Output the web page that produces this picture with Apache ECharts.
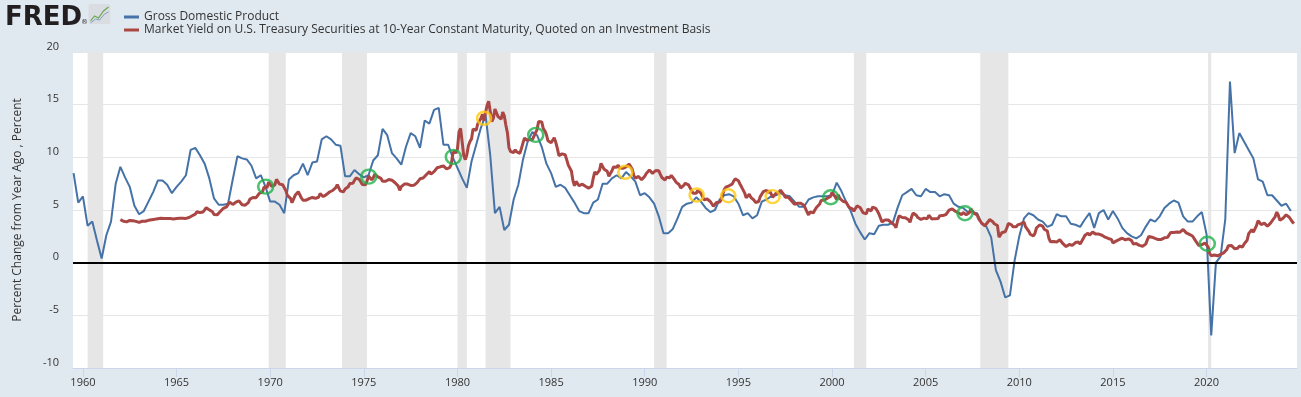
<!DOCTYPE html>
<html>
<head>
<meta charset="utf-8">
<title>GDP vs 10-Year Treasury</title>
<script src="https://cdn.jsdelivr.net/npm/echarts@6/dist/echarts.min.js"></script>
<style>
  html, body { margin: 0; padding: 0; background: #e1e9f0; }
  #chart { width: 1301px; height: 397px; }
</style>
</head>
<body>
<div id="chart"></div>
<script>
// GDP, percent change from year ago, quarterly from 1959 Q3
const gdpStart = 1959.5;
const gdpPct = [
  8.5, 5.7,
  6.3, 3.5, 3.9, 2.1,   0.4, 2.6, 3.9, 7.5,   9.1, 8.1, 7.2, 5.4,   4.6, 4.9, 5.8, 6.7,
  7.8, 7.8, 7.4, 6.6,   7.2, 7.7, 8.3, 10.7,  10.9, 10.2, 9.4, 8.0,  6.1, 5.5, 5.5, 5.6,
  7.9, 10.1, 9.9, 9.8,  9.2, 8.0, 8.3, 7.2,
  5.8, 5.8, 5.5, 4.7,   7.9, 8.3, 8.5, 9.4,   8.3, 9.5, 9.6, 11.7,  12.0, 11.7, 11.2, 11.1,
  8.2, 8.2, 8.8, 8.4,   8.1, 8.3, 9.7, 10.2,  12.7, 12.1, 10.4, 9.9, 9.3, 11.0, 12.3, 12.0,
  10.9, 13.5, 13.2, 14.5, 14.7, 11.2, 11.2, 10.0,
  9.0, 8.0, 7.1, 9.6,   11.2, 12.8, 14.0, 10.2, 4.7, 5.3, 3.1, 3.6,   6.0, 7.4, 9.8, 11.5,
  12.4, 12.1, 11.0, 9.4, 8.5, 7.2, 7.4, 7.1,  6.4, 5.7, 4.9, 4.7,   4.7, 5.7, 6.0, 7.5,
  7.5, 8.0, 8.3, 8.0,   8.6, 8.2, 7.7, 6.4,
  6.6, 6.2, 5.6, 4.4,   2.8, 2.8, 3.2, 4.2,   5.3, 5.6, 5.7, 6.2,   5.8, 5.2, 4.8, 5.0,
  6.0, 6.4, 6.5, 6.3,   5.6, 4.5, 4.7, 4.2,   4.5, 5.8, 6.0, 6.3,   6.4, 6.6, 6.4, 6.3,
  5.8, 5.3, 5.3, 6.0,   6.2, 6.3, 6.3, 6.3,
  6.4, 7.6, 6.8, 5.8,   4.9, 3.7, 2.9, 2.2,   2.8, 2.7, 3.5, 3.6,   3.6, 3.8, 5.2, 6.4,
  6.7, 7.0, 6.4, 6.3,   7.0, 6.7, 6.7, 6.3,   6.5, 6.4, 5.6, 5.3,   5.2, 4.8, 4.8, 4.7,
  3.7, 3.4, 2.4, -0.7,  -1.8, -3.3, -3.1, 0.2,
  2.5, 4.2, 4.7, 4.5,   4.1, 3.9, 3.4, 3.6,   4.6, 4.4, 4.4, 3.7,   3.6, 3.4, 4.1, 4.7,
  3.3, 4.7, 5.0, 4.1,   4.9, 4.2, 3.3, 2.8,   2.5, 2.3, 2.6, 3.4,   4.1, 3.9, 4.4, 5.2,
  5.6, 5.9, 5.7, 4.4,   3.9, 3.9, 4.4, 4.8,
  2.7, -6.9, 0.0, 0.6,  4.1, 17.2, 10.4, 12.3, 11.5, 10.7, 9.9, 7.9, 7.7, 6.4, 6.4, 5.9,
  5.4, 5.6, 4.9
];

// 10-year treasury yield, percent, monthly from Jan 1962
const tsyStart = 1962;
const tsyYield = [
  4.08, 4.04, 3.93, 3.84, 3.87, 3.91, 4.01, 3.98, 3.98, 3.93, 3.92, 3.86,
  3.83, 3.92, 3.93, 3.97, 3.93, 3.99, 4.02, 4.00, 4.08, 4.11, 4.12, 4.13,
  4.17, 4.15, 4.22, 4.23, 4.20, 4.17, 4.19, 4.19, 4.20, 4.19, 4.15, 4.18,
  4.19, 4.21, 4.21, 4.20, 4.21, 4.21, 4.20, 4.25, 4.29, 4.35, 4.45, 4.62,
  4.61, 4.83, 4.87, 4.75, 4.78, 4.81, 5.02, 5.22, 5.18, 5.01, 5.16, 4.84,
  4.58, 4.63, 4.54, 4.59, 4.85, 5.02, 5.16, 5.28, 5.30, 5.48, 5.75, 5.70,
  5.53, 5.56, 5.74, 5.64, 5.87, 5.72, 5.50, 5.42, 5.46, 5.58, 5.70, 6.03,
  6.04, 6.19, 6.30, 6.17, 6.32, 6.57, 6.72, 6.69, 7.16, 7.10, 7.14, 7.65,
  7.79, 7.24, 7.07, 7.39, 7.91, 7.84, 7.46, 7.53, 7.39, 7.33, 6.84, 6.39,
  6.24, 6.11, 5.70, 5.83, 6.39, 6.52, 6.73, 6.58, 6.14, 5.93, 5.81, 5.93,
  5.95, 6.08, 6.07, 6.19, 6.13, 6.11, 6.11, 6.21, 6.55, 6.48, 6.28, 6.36,
  6.46, 6.64, 6.71, 6.67, 6.85, 6.90, 7.13, 7.40, 7.09, 6.79, 6.73, 6.74,
  6.99, 6.96, 7.21, 7.51, 7.58, 7.54, 7.81, 8.04, 8.04, 7.90, 7.68, 7.43,
  7.50, 7.39, 7.73, 8.23, 8.06, 7.86, 8.06, 8.40, 8.43, 8.15, 8.05, 8.00,
  7.74, 7.79, 7.73, 7.56, 7.90, 7.86, 7.83, 7.77, 7.59, 7.41, 7.29, 6.87,
  7.21, 7.39, 7.46, 7.37, 7.46, 7.28, 7.33, 7.40, 7.34, 7.52, 7.58, 7.69,
  7.96, 8.03, 8.04, 8.15, 8.35, 8.46, 8.64, 8.41, 8.42, 8.64, 8.81, 9.01,
  9.10, 9.10, 9.12, 9.18, 9.25, 8.91, 8.95, 9.03, 9.33, 10.30, 10.65, 10.39,
  10.80, 12.41, 12.75, 11.47, 10.18, 9.78, 10.25, 11.10, 11.51, 11.75, 12.68, 12.84,
  12.57, 13.19, 13.12, 13.68, 14.10, 13.47, 14.28, 14.94, 15.32, 15.15, 13.39, 13.72,
  14.59, 14.43, 13.86, 13.87, 13.62, 14.30, 13.95, 13.06, 12.34, 10.91, 10.55, 10.54,
  10.46, 10.72, 10.51, 10.40, 10.38, 10.85, 11.38, 11.85, 11.65, 11.54, 11.69, 11.83,
  11.67, 11.84, 12.32, 12.63, 13.41, 13.56, 13.36, 12.72, 12.52, 12.16, 11.57, 11.50,
  11.38, 11.51, 11.86, 11.43, 10.85, 10.16, 10.31, 10.33, 10.37, 10.24, 9.78, 9.26,
  9.19, 8.70, 7.78, 7.30, 7.71, 7.80, 7.30, 7.17, 7.45, 7.43, 7.25, 7.11,
  7.08, 7.25, 7.25, 8.02, 8.61, 8.40, 8.45, 8.76, 9.42, 9.52, 8.86, 8.99,
  8.67, 8.21, 8.37, 8.72, 9.09, 8.92, 9.06, 9.26, 8.98, 8.80, 8.96, 9.11,
  9.09, 9.17, 9.36, 9.18, 8.86, 8.28, 8.02, 8.11, 8.19, 8.01, 7.87, 7.84,
  8.21, 8.47, 8.59, 8.79, 8.76, 8.48, 8.47, 8.75, 8.89, 8.72, 8.39, 8.08,
  8.09, 7.85, 8.11, 8.04, 8.07, 8.28, 8.27, 7.90, 7.65, 7.53, 7.42, 7.09,
  7.03, 7.34, 7.54, 7.48, 7.39, 7.26, 6.84, 6.59, 6.42, 6.59, 6.87, 6.77,
  6.60, 6.26, 5.98, 5.97, 6.04, 5.96, 5.81, 5.68, 5.36, 5.33, 5.72, 5.77,
  5.75, 5.97, 6.48, 6.97, 7.18, 7.10, 7.30, 7.24, 7.46, 7.74, 7.96, 7.81,
  7.78, 7.47, 7.20, 7.06, 6.63, 6.17, 6.28, 6.49, 6.20, 6.04, 5.93, 5.71,
  5.65, 5.81, 6.27, 6.51, 6.74, 6.91, 6.87, 6.64, 6.83, 6.53, 6.20, 6.30,
  6.58, 6.42, 6.69, 6.89, 6.71, 6.49, 6.22, 6.30, 6.21, 6.03, 5.88, 5.81,
  5.54, 5.57, 5.65, 5.64, 5.65, 5.50, 5.46, 5.34, 4.81, 4.53, 4.83, 4.65,
  4.72, 5.00, 5.23, 5.18, 5.54, 5.90, 5.79, 5.94, 5.92, 6.11, 6.03, 6.28,
  6.66, 6.52, 6.26, 5.99, 6.44, 6.10, 6.05, 5.83, 5.80, 5.74, 5.72, 5.24,
  5.16, 5.10, 4.89, 5.14, 5.39, 5.28, 5.24, 4.97, 4.73, 4.57, 4.65, 5.09,
  5.04, 4.91, 5.28, 5.21, 5.16, 4.93, 4.65, 4.26, 3.87, 3.94, 4.05, 4.03,
  4.05, 3.90, 3.81, 3.96, 3.57, 3.33, 3.98, 4.45, 4.27, 4.29, 4.30, 4.27,
  4.15, 4.08, 3.83, 4.35, 4.72, 4.73, 4.50, 4.28, 4.13, 4.10, 4.19, 4.23,
  4.22, 4.17, 4.50, 4.34, 4.14, 4.00, 4.18, 4.26, 4.20, 4.46, 4.54, 4.47,
  4.42, 4.57, 4.72, 4.99, 5.11, 5.11, 5.09, 4.88, 4.72, 4.73, 4.60, 4.56,
  4.76, 4.72, 4.56, 4.69, 4.75, 5.10, 5.00, 4.67, 4.52, 4.53, 4.15, 4.10,
  3.74, 3.74, 3.51, 3.68, 3.88, 4.10, 4.01, 3.89, 3.69, 3.81, 3.53, 2.42,
  2.52, 2.87, 2.82, 2.93, 3.29, 3.72, 3.56, 3.59, 3.40, 3.39, 3.40, 3.59,
  3.73, 3.69, 3.73, 3.85, 3.42, 3.20, 3.01, 2.70, 2.65, 2.54, 2.76, 3.29,
  3.39, 3.58, 3.41, 3.46, 3.17, 3.00, 3.00, 2.30, 1.98, 2.15, 2.01, 1.98,
  1.97, 1.97, 2.17, 2.05, 1.80, 1.62, 1.53, 1.68, 1.72, 1.75, 1.65, 1.72,
  1.91, 1.98, 1.96, 1.76, 1.93, 2.30, 2.58, 2.74, 2.81, 2.62, 2.72, 2.90,
  2.86, 2.71, 2.72, 2.71, 2.56, 2.60, 2.54, 2.42, 2.53, 2.30, 2.33, 2.21,
  1.88, 1.98, 2.04, 1.94, 2.20, 2.36, 2.32, 2.17, 2.17, 2.07, 2.26, 2.24,
  2.09, 1.78, 1.89, 1.81, 1.81, 1.64, 1.50, 1.56, 1.63, 1.76, 2.14, 2.49,
  2.43, 2.42, 2.48, 2.30, 2.30, 2.19, 2.32, 2.21, 2.20, 2.36, 2.35, 2.40,
  2.58, 2.86, 2.84, 2.87, 2.98, 2.91, 2.89, 2.89, 3.00, 3.15, 3.12, 2.83,
  2.71, 2.68, 2.57, 2.53, 2.40, 2.07, 2.06, 1.63, 1.70, 1.71, 1.81, 1.86,
  1.76, 1.50, 0.87, 0.66, 0.67, 0.73, 0.62, 0.65, 0.68, 0.79, 0.87, 0.93,
  1.08, 1.26, 1.61, 1.64, 1.62, 1.52, 1.32, 1.28, 1.37, 1.58, 1.56, 1.47,
  1.76, 1.93, 2.13, 2.75, 2.90, 3.14, 2.90, 2.90, 3.52, 3.98, 3.89, 3.62,
  3.53, 3.75, 3.66, 3.46, 3.57, 3.75, 3.90, 4.17, 4.38, 4.80, 4.50, 4.02,
  4.06, 4.21, 4.21, 4.54, 4.48, 4.31, 4.25, 3.87, 3.72
];

// NBER recessions, peak month to trough month
const recessions = [
  ['1960-04', '1961-02'], ['1969-12', '1970-11'], ['1973-11', '1975-03'],
  ['1980-01', '1980-07'], ['1981-07', '1982-11'], ['1990-07', '1991-03'],
  ['2001-03', '2001-11'], ['2007-12', '2009-06'], ['2020-02', '2020-04']
];

const yearTicks = [1960, 1965, 1970, 1975, 1980, 1985, 1990, 1995, 2000, 2005, 2010, 2015, 2020];

// hand-drawn rings on the crossings (decimal year, percent)
const greenRings = [
  [1969.76, 7.22], [1975.26, 8.17], [1979.78, 10.04], [1984.18, 12.13],
  [1999.93, 6.21], [2007.10, 4.69], [2020.04, 1.80]
];
const orangeRings = [
  [1981.42, 13.71], [1988.96, 8.58], [1992.77, 6.43], [1994.46, 6.36], [1996.83, 6.27]
];

const gdpName = 'Gross Domestic Product';
const tsyName = 'Market Yield on U.S. Treasury Securities at 10-Year Constant Maturity, Quoted on an Investment Basis';
const font = 'Open Sans';

function ym(s) {
  let p = s.split('-');
  return +p[0] + (+p[1] - 1) / 12;
}

let chart = echarts.init(document.getElementById('chart'));

let option = {
  animation: false,
  backgroundColor: '#e1e9f0',
  textStyle: { fontFamily: font },
  graphic: [
    {
      type: 'text', left: 5, top: 5,
      style: { text: 'FRED', font: '900 26px "DejaVu Sans"', fill: '#231f20' }
    },
    {
      type: 'text', left: 81, top: 19,
      style: { text: '®', font: '7px "DejaVu Sans"', fill: '#333' }
    },
    {
      type: 'group', left: 88, top: 4,
      children: [
        { type: 'rect', shape: { x: 0, y: 0, width: 22, height: 20, r: 2 }, style: { fill: '#d9dde1' } },
        { type: 'polyline', shape: { points: [[2, 17], [6, 12], [10, 14], [15, 7], [20, 3]] }, style: { stroke: '#6aa84f', lineWidth: 1.2, fill: null } },
        { type: 'polyline', shape: { points: [[2, 19], [7, 15], [11, 16], [16, 10], [20, 8]] }, style: { stroke: '#7f9fbf', lineWidth: 1, fill: null } }
      ]
    }
  ],
  legend: {
    data: [gdpName, tsyName],
    orient: 'vertical',
    left: 119,
    top: 6,
    icon: 'rect',
    itemWidth: 15,
    itemHeight: 3,
    itemGap: 1,
    textStyle: { fontFamily: font, fontSize: 12, color: '#333' }
  },
  grid: {
    left: 73, right: 4, top: 52, bottom: 29,
    show: true, backgroundColor: '#fff', borderWidth: 0
  },
  xAxis: {
    type: 'value',
    min: 1959.47,
    max: 2024.83,
    axisLine: { show: true, onZero: false, lineStyle: { color: '#ccd6eb' } },
    axisTick: { show: true, customValues: yearTicks, length: 9, lineStyle: { color: '#ccd6eb' } },
    axisLabel: {
      customValues: yearTicks,
      formatter: v => String(v),
      color: '#333', fontSize: 11, margin: 9, fontFamily: font
    },
    splitLine: { show: false }
  },
  yAxis: {
    type: 'value',
    min: -10,
    max: 20,
    interval: 5,
    name: 'Percent Change from Year Ago , Percent',
    nameLocation: 'middle',
    nameGap: 49,
    nameRotate: 90,
    nameTextStyle: { color: '#333', fontSize: 12, fontFamily: font },
    axisLine: { show: false },
    axisTick: { show: false },
    axisLabel: { color: '#333', fontSize: 11, margin: 14, verticalAlign: 'bottom', fontFamily: font },
    splitLine: { lineStyle: { color: '#e6e6e6' } }
  },
  series: [
    {
      name: gdpName,
      type: 'line',
      data: gdpPct.map((v, i) => [gdpStart + i / 4, v]),
      showSymbol: false,
      color: '#4572a7',
      lineStyle: { width: 2, color: '#4572a7' },
      markArea: {
        silent: true,
        itemStyle: { color: '#e6e6e6' },
        data: recessions.map(r => [{ xAxis: ym(r[0]) }, { xAxis: ym(r[1]) }])
      },
      markLine: {
        silent: true,
        symbol: 'none',
        label: { show: false },
        lineStyle: { color: '#000', width: 2, type: 'solid' },
        data: [{ yAxis: 0 }]
      }
    },
    {
      name: tsyName,
      type: 'line',
      data: tsyYield.map((v, i) => [tsyStart + i / 12, v]),
      showSymbol: false,
      color: '#aa4643',
      lineStyle: { width: 3, color: '#aa4643' }
    },
    {
      name: 'green rings',
      type: 'scatter',
      data: greenRings,
      symbol: 'circle',
      symbolSize: [15, 14],
      itemStyle: { color: 'rgba(0,0,0,0)', borderColor: '#22b14c', borderWidth: 2.5 },
      z: 5
    },
    {
      name: 'orange rings',
      type: 'scatter',
      data: orangeRings,
      symbol: 'circle',
      symbolSize: [14, 13],
      itemStyle: { color: 'rgba(0,0,0,0)', borderColor: '#ffc90e', borderWidth: 2.5 },
      z: 5
    }
  ]
};

chart.setOption(option);
</script>
</body>
</html>
